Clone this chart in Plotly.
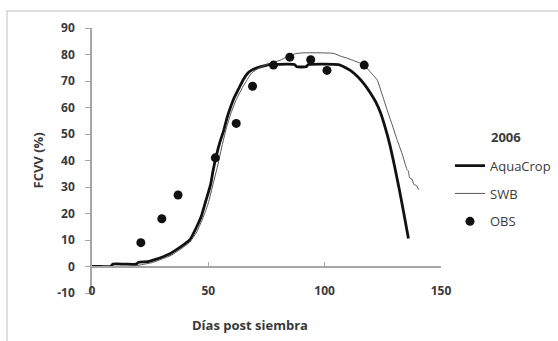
import plotly.graph_objects as go

# ---- data ----
aqua_x = [0, 4, 8, 9, 14, 19, 20, 24, 27, 30, 33, 36, 39, 42, 45, 47, 49, 51, 52, 53.5, 55, 56.5,
          58, 59.5, 61, 63, 65, 67, 69, 71, 73, 76, 80, 87, 88, 92, 93, 106, 108, 111, 114,
          117, 120, 122, 124, 126, 128, 130, 132, 134, 136]
aqua_y = [0, 0, 0, 0.9, 0.9, 0.9, 1.6, 1.8, 2.6, 3.5, 4.6, 6.2, 8.0, 10.0, 15.0, 19, 25, 31, 36, 42, 47, 51,
          56, 60, 63.5, 67, 70.5, 73, 74.3, 75, 75.5, 76.2, 76.3, 76.2, 75.4, 75.4, 76.2, 76.2, 75.5, 74, 71.8,
          68.8, 65, 62, 58, 52.5, 46, 38, 29.4, 20.2, 10.6]

swb_x = [0, 6, 12, 18, 22, 26, 30, 34, 38, 42, 45, 48, 50, 52, 54, 56, 58, 60, 62, 65, 68.6, 72, 75,
         80.8, 84, 87, 90, 100, 104, 106.7, 110, 113, 116.7, 119.5, 122.5, 124.5, 126.8, 129,
         131.1, 133.3, 135.4, 136, 136.5, 137.5, 138.3, 139.5, 140.4]
swb_y = [0, 0, 0, 0.1, 0.8, 1.5, 2.8, 4.2, 6.5, 9.2, 13, 19, 24, 31, 38, 46, 53, 58.5, 63, 68, 73, 75, 76.2,
         77.8, 79.2, 80.2, 80.6, 80.6, 80.4, 79.4, 78.5, 77.5, 76.2, 73.5, 70.5, 65.5, 59.2, 53.5,
         47.9, 42.5, 36.6, 36, 33.5, 33, 31, 30.5, 29]

obs_x = [21, 30, 37, 53, 62, 69, 78, 85, 94, 101, 117]
obs_y = [9, 18, 27, 41, 54, 68, 76, 79, 78, 74, 76]

x_ticks = [0, 50, 100, 150]
y_ticks = list(range(-10, 91, 10))
y_labels = [str(v) for v in y_ticks]

FONT = "Open Sans"
TXT = "#3a3a3a"
AX = "#a6a6a6"
TICKF = dict(family=FONT, size=12, color=TXT, weight="bold")
TITLEF = dict(family=FONT, size=13, color=TXT, weight="bold")

fig = go.Figure()
fig.add_trace(go.Scatter(x=aqua_x, y=aqua_y, mode="lines", name="AquaCrop",
                         line=dict(color="#111111", width=2.8, shape="spline", smoothing=0.5),
                         legendgroup="a"))
fig.add_trace(go.Scatter(x=swb_x, y=swb_y, mode="lines", name="SWB",
                         line=dict(color="#555555", width=1, shape="spline", smoothing=0.5),
                         legendgroup="b"))
fig.add_trace(go.Scatter(x=obs_x, y=obs_y, mode="markers", name="OBS",
                         marker=dict(color="#111111", size=9), legendgroup="c"))

fig.update_layout(
    width=558, height=341,
    margin=dict(l=92, r=117, t=28, b=48, autoexpand=False),
    paper_bgcolor="white", plot_bgcolor="white",
    font=dict(family=FONT, size=12, color=TXT),
    xaxis=dict(range=[0, 150], anchor="free", position=0.1, showline=True, linecolor=AX,
               linewidth=1.5, ticks="inside", ticklen=4, tickcolor=AX, tickvals=x_ticks,
               showticklabels=False, showgrid=False, zeroline=False),
    xaxis2=dict(range=[0, 150], matches="x", overlaying="x", anchor="free", position=0.04,
                showline=False, ticks="", tickvals=x_ticks, showgrid=False, zeroline=False,
                tickfont=TICKF),
    yaxis=dict(range=[-10, 90], tickvals=y_ticks, ticktext=y_labels, showline=True,
               linecolor=AX, linewidth=1.5,
               ticks="outside", ticklen=5, tickcolor=AX, showgrid=False, zeroline=False,
               ticklabelstandoff=8, tickfont=TICKF),
    legend=dict(xref="container", yref="container", x=450 / 558, y=1 - 150.6 / 341,
                xanchor="left", yanchor="top", bgcolor="rgba(0,0,0,0)",
                itemwidth=30, tracegroupgap=8,
                font=dict(family=FONT, size=13, color=TXT)),
    showlegend=True,
)
# invisible trace to keep the label axis alive
fig.add_trace(go.Scatter(x=[0, 150], y=[None, None], xaxis="x2", showlegend=False,
                         hoverinfo="skip"))

fig.add_annotation(text="2006", xref="paper", yref="paper", x=(489 - 92) / 349,
                   y=(293 - 137) / 265, xanchor="left", yanchor="middle", showarrow=False,
                   font=TITLEF)
fig.add_annotation(text="Días post siembra", xref="paper", yref="paper", x=(249.5 - 92) / 349,
                   y=(293 - 325) / 265, xanchor="center", yanchor="middle", showarrow=False,
                   font=TITLEF)
fig.add_annotation(text="FCVV (%)", xref="paper", yref="paper", x=(37 - 92) / 349,
                   y=0.5, xanchor="center", yanchor="middle", showarrow=False, textangle=-90,
                   font=TITLEF)
fig.add_shape(type="rect", xref="paper", yref="paper",
              x0=(7 - 92) / 349, x1=(562 - 92) / 349, y0=(293 - 350) / 265, y1=(293 - 11) / 265,
              line=dict(color="#d4d4d4", width=1.5), fillcolor="rgba(0,0,0,0)", layer="below")

fig.write_html("out.html", config={"displayModeBar": False},
               post_script="document.body.style.margin='0px';")
